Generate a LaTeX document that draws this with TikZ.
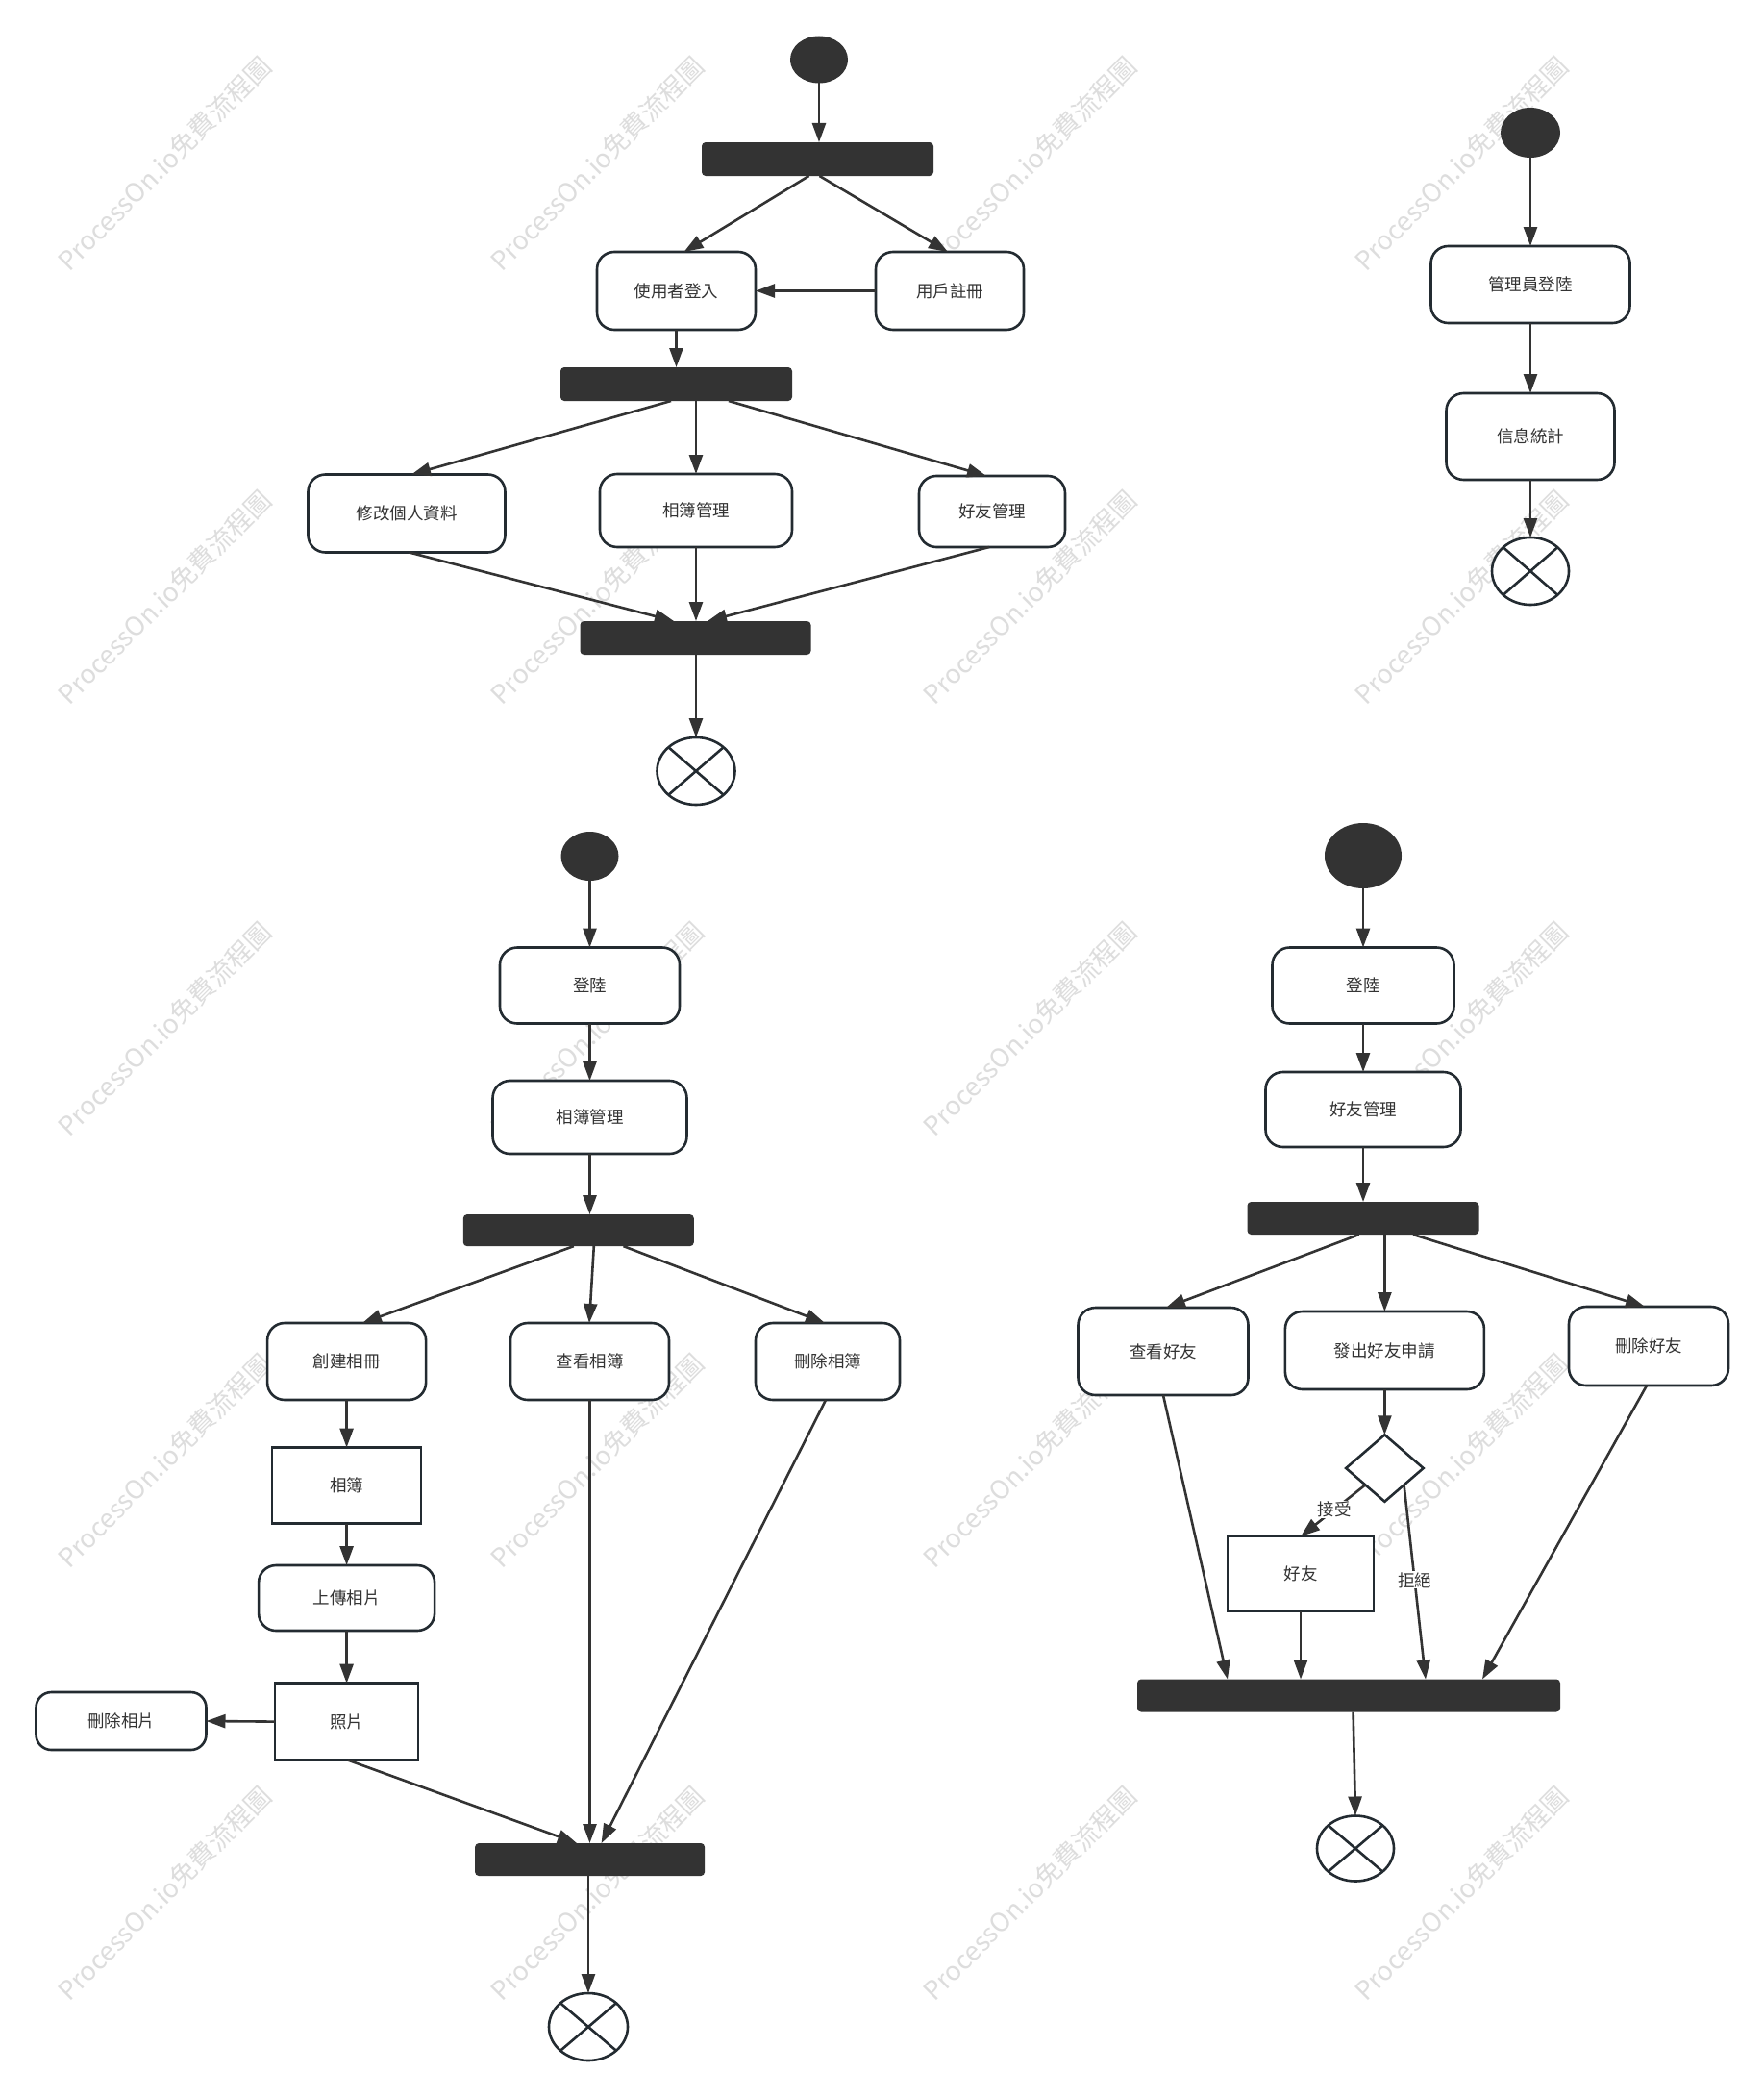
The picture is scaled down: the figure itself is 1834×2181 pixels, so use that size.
\documentclass[tikz,border=0pt]{standalone}
\usepackage{fontspec}
\setmainfont{Noto Sans CJK TC}
\usetikzlibrary{arrows.meta,shapes.geometric,calc}
\definecolor{ink}{HTML}{333333}
\definecolor{edgec}{HTML}{232B31}
\definecolor{wm}{HTML}{DDDDDD}
\begin{document}
\begin{tikzpicture}[x=1pt,y=-1pt,
  lbfont/.style={font=\fontsize{17.5}{20}\selectfont},
  act/.style={draw=edgec, line width=2.6pt, fill=white, rounded corners=18pt, inner sep=0pt, outer sep=0pt, text=ink, lbfont},
  obj/.style={draw=edgec, line width=2.6pt, fill=white, inner sep=0pt, outer sep=0pt, text=ink, lbfont},
  bar/.style={fill=ink, draw=none, rounded corners=4pt, inner sep=0pt, outer sep=0pt, minimum height=34pt},
  startnode/.style={ellipse, fill=ink, draw=none, inner sep=0pt, outer sep=0pt},
  endnode/.style={ellipse, draw=edgec, line width=2.6pt, fill=white, inner sep=0pt, outer sep=0pt},
  cross/.style={draw=edgec, line width=2.6pt},
  arr/.style={draw=ink, line width=2.6pt, -{Triangle[length=20pt,width=14pt]}},
  decision/.style={diamond, draw=edgec, line width=2.6pt, fill=white, inner sep=0pt, outer sep=0pt},
  edgelabel/.style={fill=white, inner sep=1pt, text=ink, lbfont},
  wmark/.style={rotate=45, text=wm, inner sep=0pt, font=\fontsize{27}{30}\selectfont}
]
\useasboundingbox (0,0) rectangle (1834,2181);
\fill[white] (0,0) rectangle (1834,2181);

% watermarks
\foreach \wx in {171,621,1071,1520} {
  \foreach \wy in {170,621,1070,1519,1969} {
    \node[wmark] at (\wx,\wy) {ProcessOn.io免費流程圖};
  }
}

% ---------------- Panel 1 ----------------
\node[startnode, minimum width=60pt, minimum height=49pt] (s1) at (852,62) {};
\node[bar, minimum width=241pt, minimum height=35pt] (b1) at (850.5,165.5) {};
\node[act, minimum width=165pt, minimum height=81pt] (login) at (703.5,302.5) {使用者登入};
\node[act, minimum width=154pt, minimum height=81pt] (reg) at (988,302.5) {用戶註冊};
\node[bar, minimum width=241pt, minimum height=35pt] (b2) at (703.5,399.5) {};
\node[act, minimum width=205pt, minimum height=81pt] (edit) at (423,534) {修改個人資料};
\node[act, minimum width=200pt, minimum height=76pt] (album) at (724,531) {相簿管理};
\node[act, minimum width=152pt, minimum height=74pt] (friend) at (1032,532) {好友管理};
\node[bar, minimum width=240pt, minimum height=35pt] (b3) at (723.5,663.5) {};
\node[endnode, minimum width=81pt, minimum height=70pt] (e1) at (724,802) {};
\draw[cross] (e1.north west) -- (e1.south east) (e1.north east) -- (e1.south west);

\draw[arr] (s1.south) -- (s1.south |- b1.north);
\draw[arr] ($(b1.south)+(-9,0)$) -- ($(login.north)+(8,0)$);
\draw[arr] ($(b1.south)+(2,0)$) -- ($(reg.north)+(-2,0)$);
\draw[arr] (reg.west) -- (login.east);
\draw[arr] (login.south) -- (b2.north);
\draw[arr] ($(b2.south)+(-5.5,0)$) -- ($(edit.north)+(5,0)$);
\draw[arr] (b2.south -| album.north) -- (album.north);
\draw[arr] ($(b2.south)+(54.5,0)$) -- ($(friend.north)+(-6,0)$);
\draw[arr] ($(edit.south)+(2.7,0)$) -- ($(b3.north)+(-22.5,0)$);
\draw[arr] (album.south) -- (album.south |- b3.north);
\draw[arr] ($(friend.south)+(-3,0)$) -- ($(b3.north)+(12.5,0)$);
\draw[arr] (b3.south -| e1.north) -- (e1.north);

% ---------------- Panel 2 ----------------
\node[startnode, minimum width=62pt, minimum height=52pt] (s2) at (1592,138) {};
\node[act, minimum width=207pt, minimum height=80pt] (admin) at (1592,296) {管理員登陸};
\node[act, minimum width=175pt, minimum height=90pt] (stat) at (1592,454) {信息統計};
\node[endnode, minimum width=80pt, minimum height=70pt] (e2) at (1592,594) {};
\draw[cross] (e2.north west) -- (e2.south east) (e2.north east) -- (e2.south west);
\draw[arr] (s2.south) -- (admin.north);
\draw[arr] (admin.south) -- (stat.north);
\draw[arr] (stat.south) -- (e2.north);

% ---------------- Panel 3 ----------------
\node[startnode, minimum width=60pt, minimum height=51pt] (s3) at (613.5,890.5) {};
\node[act, minimum width=187pt, minimum height=79pt] (login3) at (613.5,1025) {登陸};
\node[act, minimum width=202pt, minimum height=76pt] (album3) at (613.5,1162) {相簿管理};
\node[bar, minimum width=240pt, minimum height=33pt] (b4) at (601.8,1279.6) {};
\node[act, minimum width=165pt, minimum height=80pt] (create) at (360.6,1416) {創建相冊};
\node[act, minimum width=165pt, minimum height=80pt] (view) at (613.5,1416) {查看相簿};
\node[act, minimum width=150pt, minimum height=80pt] (delalb) at (861,1416) {刪除相簿};
\node[obj, minimum width=155pt, minimum height=79pt] (albobj) at (360.6,1545) {相簿};
\node[act, minimum width=183pt, minimum height=68pt] (upload) at (360.6,1662) {上傳相片};
\node[obj, minimum width=149pt, minimum height=80pt] (photo) at (360.6,1790.6) {照片};
\node[act, minimum width=177pt, minimum height=60pt, rounded corners=16pt] (delph) at (126,1790) {刪除相片};
\node[bar, minimum width=239pt, minimum height=34pt] (b5) at (613.6,1934) {};
\node[endnode, minimum width=82pt, minimum height=70pt] (e3) at (612,2108) {};
\draw[cross] (e3.north west) -- (e3.south east) (e3.north east) -- (e3.south west);

\draw[arr] (s3.south) -- (login3.north);
\draw[arr] (login3.south) -- (album3.north);
\draw[arr] (album3.south) -- (album3.south |- b4.north);
\draw[arr] ($(b4.south)+(-5,0)$) -- ($(create.north)+(16.4,0)$);
\draw[arr] ($(b4.south)+(16,0)$) -- ($(view.north)+(-0.5,0)$);
\draw[arr] ($(b4.south)+(46.7,0)$) -- ($(delalb.north)+(-3,0)$);
\draw[arr] (create.south) -- (albobj.north);
\draw[arr] (albobj.south) -- (upload.north);
\draw[arr] (upload.south) -- (photo.north);
\draw[arr] (photo.west) -- (delph.east);
\draw[arr] ($(photo.south)+(1.4,0)$) -- ($(b5.north)+(-13.6,0)$);
\draw[arr] (view.south) -- (view.south |- b5.north);
\draw[arr] ($(delalb.south)+(-2,0)$) -- ($(b5.north)+(12,0)$);
\draw[arr] (b5.south -| e3.north) -- (e3.north);

% ---------------- Panel 4 ----------------
\node[startnode, minimum width=80pt, minimum height=68pt] (s4) at (1418,890) {};
\node[act, minimum width=189pt, minimum height=79pt] (login4) at (1418,1025) {登陸};
\node[act, minimum width=203pt, minimum height=78pt] (friend4) at (1418,1154) {好友管理};
\node[bar, minimum width=241pt, minimum height=34pt] (b6) at (1418,1267) {};
\node[act, minimum width=177pt, minimum height=91pt] (viewf) at (1210,1405.5) {查看好友};
\node[act, minimum width=207pt, minimum height=81pt] (req) at (1440.4,1404.5) {發出好友申請};
\node[act, minimum width=166pt, minimum height=82pt] (delf) at (1715,1400) {刪除好友};
\node[decision, minimum width=80.5pt, minimum height=69.5pt] (dia) at (1440.4,1527) {};
\node[obj, minimum width=152pt, minimum height=78pt] (fobj) at (1353,1637) {好友};
\node[bar, minimum width=440pt, minimum height=34pt] (b7) at (1403,1763.5) {};
\node[endnode, minimum width=80pt, minimum height=68pt] (e4) at (1410,1922.5) {};
\draw[cross] (e4.north west) -- (e4.south east) (e4.north east) -- (e4.south west);

\draw[arr] (s4.south) -- (login4.north);
\draw[arr] (login4.south) -- (friend4.north);
\draw[arr] (friend4.south) -- (b6.north);
\draw[arr] ($(b6.south)+(-4.3,0)$) -- ($(viewf.north)+(3,0)$);
\draw[arr] (b6.south -| req.north) -- (req.north);
\draw[arr] ($(b6.south)+(52,0)$) -- ($(delf.north)+(-4,0)$);
\draw[arr] (req.south) -- (dia.north);
\draw[arr] (dia.south west) -- node[edgelabel, pos=0.48] {接受} (fobj.north);
\draw[arr] (dia.south east) -- node[edgelabel, pos=0.49] {拒絕} ($(b7.north)+(80,0)$);
\draw[arr] (viewf.south) -- ($(b7.north)+(-126,0)$);
\draw[arr] (fobj.south) -- (fobj.south |- b7.north);
\draw[arr] ($(delf.south)+(-2,0)$) -- ($(b7.north)+(139,0)$);
\draw[arr] ($(b7.south)+(4.6,0)$) -- (e4.north);
\end{tikzpicture}
\end{document}
